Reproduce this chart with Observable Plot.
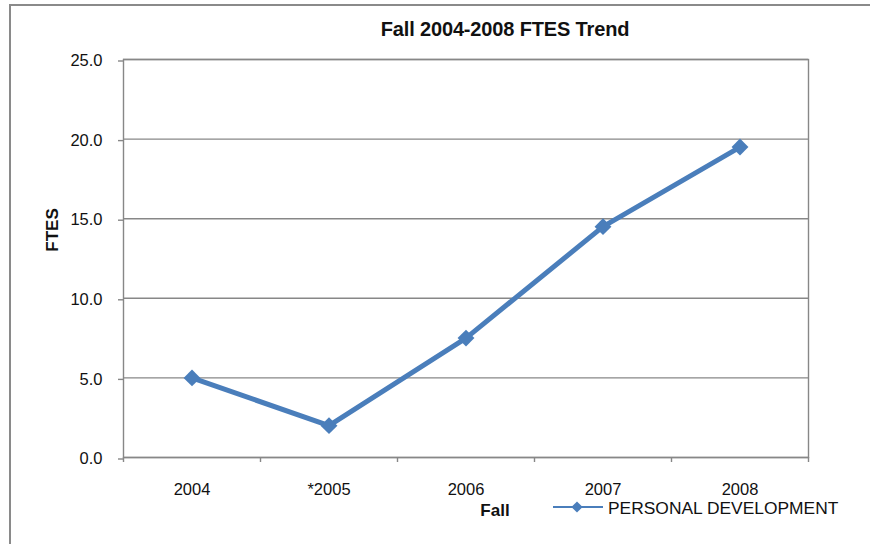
<!DOCTYPE html>
<html>
<head>
<meta charset="utf-8">
<script src="https://cdn.jsdelivr.net/npm/d3@7"></script>
<script src="https://cdn.jsdelivr.net/npm/@observablehq/plot@0.6"></script>
<style>
  html, body { margin: 0; padding: 0; background: #fff; overflow: hidden; }
  #wrap { position: relative; width: 870px; height: 544px; font-family: "Liberation Sans", Arial, sans-serif; }
  #border { position: absolute; left: 9px; top: 4px; width: 900px; height: 600px; border-left: 2px solid #8a8a8a; border-top: 2px solid #8a8a8a; }
  #chart { position: absolute; left: 0; top: 0; }
  #overlay { position: absolute; left: 0; top: 0; pointer-events: none; }
</style>
</head>
<body>
<div id="wrap">
  <div id="border"></div>
  <div id="chart"></div>
  <svg id="overlay" width="870" height="544"></svg>
</div>
<script>
// ---- data ----
const years = ["2004", "*2005", "2006", "2007", "2008"];
const ftes = [5.0, 2.0, 7.5, 14.5, 19.5];
const yTicks = [0, 5, 10, 15, 20, 25];
const seriesName = "PERSONAL DEVELOPMENT";
const titleText = "Fall 2004-2008 FTES Trend";
const xTitle = "Fall";
const yTitle = "FTES";

const lineColor = "#4A7EBB";
const gridColor = "#878787";

const data = years.map((year, i) => ({ i, year, v: ftes[i] }));
const boundaries = d3.range(years.length + 1).map(i => i - 0.5);

const chart = Plot.plot({
  width: 870,
  height: 544,
  marginLeft: 123,
  marginRight: 62,
  marginTop: 59,
  marginBottom: 87,
  style: { fontFamily: '"Liberation Sans", Arial, sans-serif', background: "transparent" },
  x: { type: "linear", domain: [-0.5, years.length - 0.5] },
  y: { domain: [0, 25] },
  marks: [
    Plot.gridY(yTicks, { stroke: gridColor, strokeOpacity: 1, strokeWidth: 1.4 }),
    Plot.frame({ stroke: gridColor, strokeWidth: 1.4 }),
    Plot.axisY(yTicks, {
      tickFormat: d => d.toFixed(1), tickSize: 5, tickPadding: 16,
      fontSize: 16.5, label: null, stroke: gridColor, strokeWidth: 1.4, fill: "#111", dy: 1.5
    }),
    Plot.axisX(data.map(d => d.i), {
      tickSize: 0, tickPadding: 26, tickFormat: i => years[i],
      fontSize: 16.5, label: null, fill: "#111"
    }),
    Plot.axisX(boundaries, {
      tickSize: 5, tickFormat: () => "", label: null, stroke: gridColor, strokeWidth: 1.4
    }),
    Plot.line(data, { x: "i", y: "v", stroke: lineColor, strokeWidth: 5, strokeLinejoin: "round" }),
    Plot.dot(data, { x: "i", y: "v", symbol: "diamond2", r: 7.6, fill: lineColor, stroke: "none" })
  ]
});
document.getElementById("chart").appendChild(chart);

// ---- titles & legend ----
const ov = d3.select("#overlay").style("font-family", '"Liberation Sans", Arial, sans-serif');
ov.append("text").attr("x", 505).attr("y", 35.5).attr("text-anchor", "middle")
  .attr("font-size", 20).attr("font-weight", "bold").attr("letter-spacing", -0.15).attr("fill", "#111").text(titleText);
ov.append("text").attr("x", 495).attr("y", 516).attr("text-anchor", "middle")
  .attr("font-size", 17).attr("font-weight", "bold").attr("fill", "#111").text(xTitle);
ov.append("text").attr("transform", "translate(58,230) rotate(-90)").attr("text-anchor", "middle")
  .attr("font-size", 17).attr("font-weight", "bold").attr("fill", "#111").text(yTitle);
// legend
ov.append("line").attr("x1", 553).attr("x2", 603).attr("y1", 507).attr("y2", 507)
  .attr("stroke", lineColor).attr("stroke-width", 2.2);
ov.append("path").attr("d", d3.symbol(d3.symbolDiamond2, 80)()).attr("transform", "translate(577,507)").attr("fill", lineColor);
ov.append("text").attr("x", 608).attr("y", 514).attr("font-size", 17.4).attr("fill", "#111").text(seriesName);
</script>
</body>
</html>
